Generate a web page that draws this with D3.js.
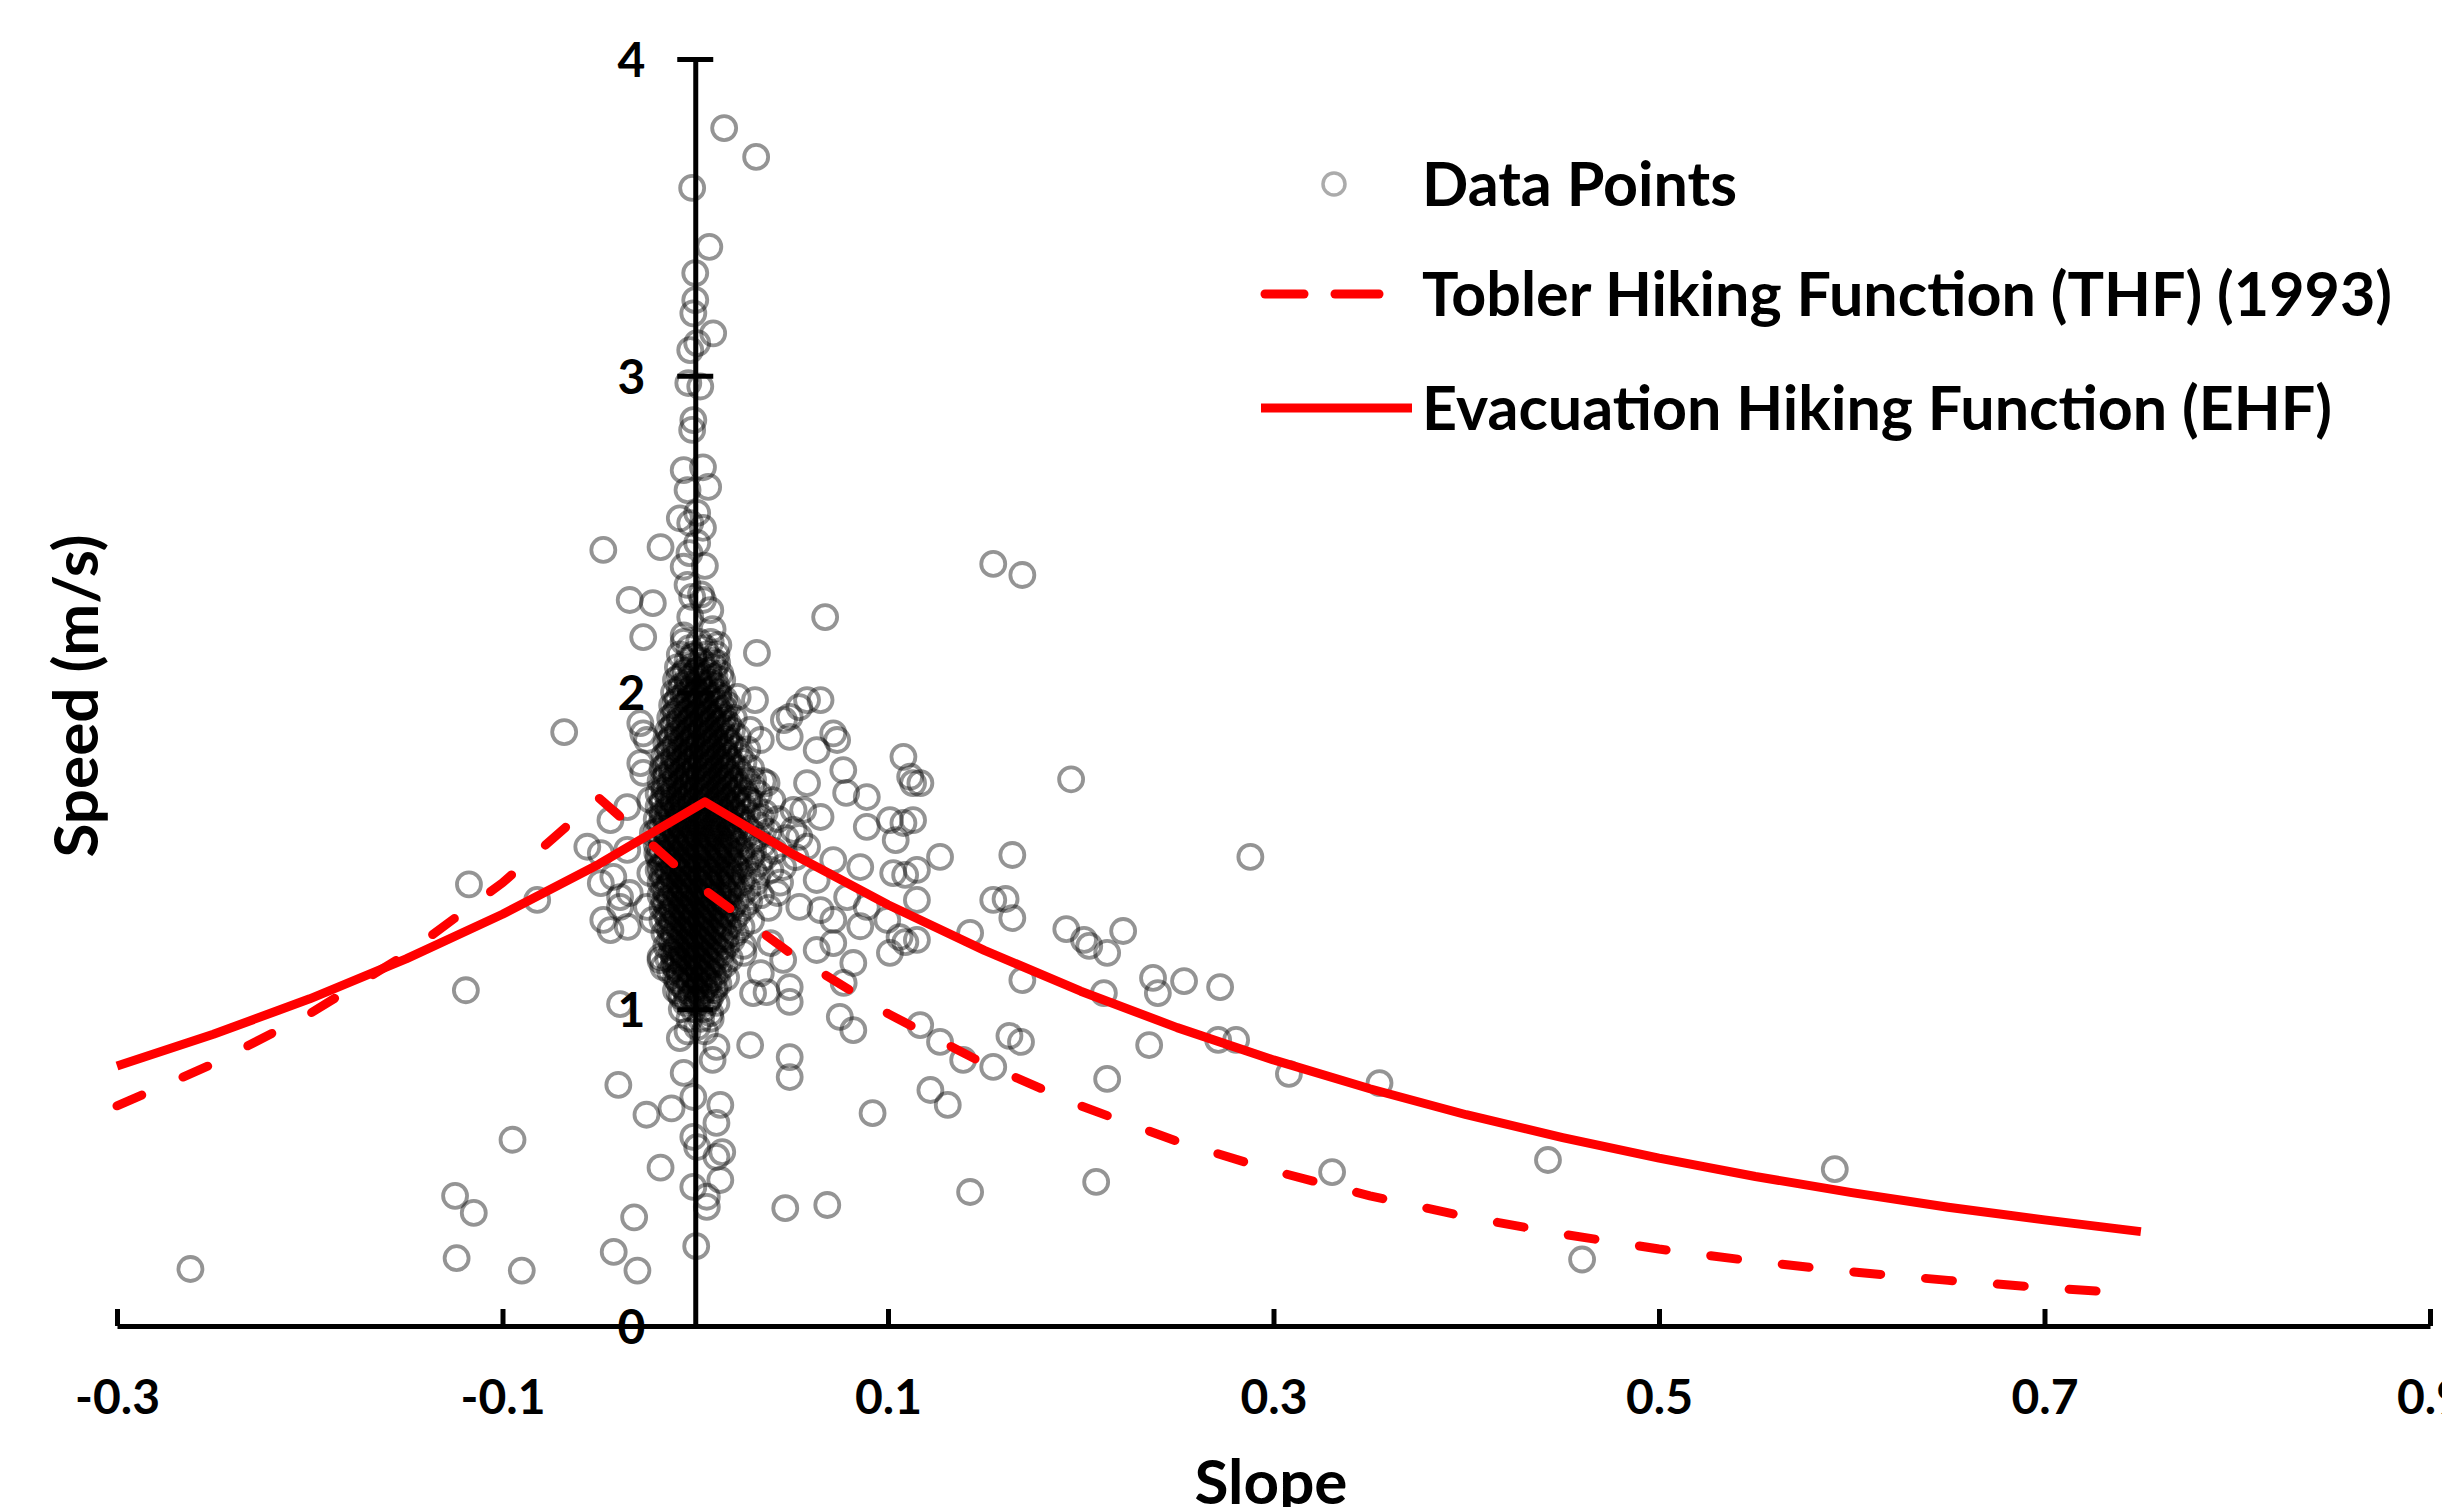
<!DOCTYPE html>
<html>
<head>
<meta charset="utf-8">
<script src="https://cdn.jsdelivr.net/npm/d3@7"></script>
<style>
  body { margin: 0; background: #fff; }
  text { font-family: Lato, "Open Sans", sans-serif; font-weight: bold; fill: #000; }
</style>
</head>
<body>
<div id="chart"></div>
<script>
// axis ticks
var slopeTicks = [-0.3, -0.1, 0.1, 0.3, 0.5, 0.7, 0.9];
var speedTicks = [0, 1, 2, 3, 4];

// Tobler Hiking Function (dashed)
var thfSlope = [-0.30,-0.25,-0.20,-0.15,-0.10,-0.05,0.00,0.05,0.10,0.15,0.20,0.25,0.30,0.35,0.40,0.45,0.50,0.55,0.60,0.65,0.70,0.75];
var thfSpeed = [0.695,0.828,0.986,1.174,1.399,1.667,1.399,1.174,0.986,0.828,0.695,0.583,0.490,0.411,0.345,0.290,0.243,0.204,0.171,0.144,0.121,0.101];

// Evacuation Hiking Function (solid)
var ehfSlope = [-0.30,-0.25,-0.20,-0.15,-0.10,-0.05,0.005,0.05,0.10,0.15,0.20,0.25,0.30,0.35,0.40,0.45,0.50,0.55,0.60,0.65,0.70,0.75];
var ehfSpeed = [0.821,0.921,1.033,1.159,1.300,1.458,1.655,1.492,1.330,1.186,1.057,0.942,0.840,0.749,0.667,0.595,0.530,0.472,0.421,0.375,0.335,0.298];

// scattered observations [slope, speed]
var scatterPoints = [
 [0.015,3.782],[0.0316,3.691],[-0.0016,3.593],[0.0073,3.407],[0,3.324],[0,3.239],[-0.001,3.197],[0.0093,3.134],
 [-0.0026,3.081],[0.001,3.103],[-0.0036,2.977],[0.0026,2.966],[-0.001,2.86],[-0.0016,2.829],[-0.006,2.702],[0.004,2.711],
 [0.0067,2.649],[-0.004,2.639],[-0.008,2.55],[0.004,2.52],[-0.003,2.44],[0.005,2.40],[-0.004,2.34],[0.003,2.31],
 [0.009,2.20],[-0.006,2.18],[0.012,2.15],
 [-0.0477,2.45],[-0.018,2.459],[-0.0026,2.535],[0.001,2.567],[0.001,2.472],[-0.006,2.397],[-0.034,2.292],[-0.022,2.282],
 [-0.0016,2.302],[0.004,2.292],[0.0078,2.26],[-0.0026,2.238],[-0.027,2.175],[0.0674,2.238],[0.032,2.125],[-0.001,2.113],
 [0.0114,2.093],[0.1546,2.406],[0.1697,2.371],
 [-0.068,1.875],[-0.0285,1.903],[-0.027,1.871],[-0.025,1.85],[-0.0285,1.777],[-0.027,1.746],
 [0.022,1.986],[0.031,1.976],[0.049,1.923],[0.054,1.954],[0.058,1.976],[0.065,1.976],[0.046,1.913],[0.049,1.86],
 [0.0285,1.882],[0.034,1.85],[0.0716,1.871],[0.0736,1.85],[0.063,1.818],[0.0768,1.755],[0.108,1.797],[0.1115,1.734],
 [0.113,1.714],[0.1168,1.714],[0.058,1.714],[0.0783,1.683],[0.089,1.67],[0.037,1.714],[0.03,1.724],[0.027,1.661],
 [0.034,1.607],[0.051,1.629],[0.056,1.629],[0.065,1.607],[0.089,1.576],[0.101,1.597],[0.108,1.588],[0.113,1.597],
 [0.104,1.534],[0.051,1.566],[0.054,1.544],[0.058,1.513],[0.0716,1.471],[0.0856,1.449],[0.1027,1.43],[0.115,1.44],
 [0.1089,1.424],[0.127,1.481],[0.1546,1.345],[0.115,1.345],[0.0996,1.282],[0.106,1.228],[0.115,1.219],[0.109,1.212],
 [0.1426,1.241],[0.089,1.323],[0.0788,1.354],[0.063,1.408],[0.0456,1.449],[0.0425,1.367],[0.054,1.323],[0.065,1.313],
 [0.0716,1.282],[0.0856,1.262],[0.0716,1.209],[0.063,1.187],[0.0456,1.156],[0.039,1.209],[0.025,1.178],[0.034,1.114],
 [0.049,1.07],
 [-0.0353,1.638],[-0.044,1.597],[-0.056,1.513],[-0.049,1.493],[-0.0353,1.503],[-0.0425,1.418],[-0.049,1.398],[-0.039,1.354],
 [-0.034,1.367],[-0.082,1.345],[-0.0477,1.282],[-0.044,1.25],[-0.035,1.26],[-0.039,1.323],[-0.022,1.282],[-0.025,1.323],
 [-0.018,1.165],[-0.0166,1.133],[-0.0233,1.43],[-0.018,1.449],[-0.0197,1.493],[-0.022,1.556],[-0.0233,1.661],
 [-0.1174,1.394],[-0.119,1.06],[-0.0948,0.588],[-0.1246,0.411],[-0.1149,0.357],[-0.1238,0.214],[-0.09,0.175],[-0.2619,0.18],
 [-0.0423,0.234],[-0.03,0.175],[-0.0317,0.343],[-0.0399,0.761],[-0.039,1.016],[-0.0253,0.667],[-0.018,0.5],[-0.0123,0.687],
 [0.0005,0.252],[0.006,0.376],[0.006,0.408],[-0.001,0.439],[0.013,0.461],[0.011,0.534],[0.014,0.549],[0.001,0.565],
 [-0.001,0.597],[0.011,0.641],[0.013,0.698],[-0.001,0.723],[-0.006,0.799],[0.009,0.84],[0.011,0.881],[-0.008,0.909],
 [0.001,0.944],[0.0078,0.988],[0.0285,0.887],[0.049,0.849],[0.049,0.786],[0.0467,0.372],[0.0685,0.382],[0.03,1.051],
 [0.037,1.054],[0.049,1.023],[0.075,0.976],[0.082,0.934],[0.077,1.083],[0.082,1.146],[0.101,1.178],[0.1167,0.95],
 [0.127,0.897],[0.139,0.84],[0.122,0.745],[0.131,0.698],[0.092,0.672],[0.1426,0.423],[0.1546,0.818],[-0.018,1.155],
 [-0.011,1.155],
 [0.1645,1.487],[0.288,1.481],[0.161,1.348],[0.1645,1.288],[0.1925,1.253],[0.2017,1.219],[0.2044,1.2],[0.2137,1.178],
 [0.222,1.247],[0.1697,1.092],[0.212,1.051],[0.2375,1.099],[0.24,1.051],[0.2536,1.089],[0.2723,1.07],[0.163,0.916],
 [0.169,0.897],[0.2355,0.887],[0.2713,0.903],[0.2806,0.903],[0.2137,0.78],[0.308,0.796],[0.355,0.767],[0.208,0.455],
 [0.3304,0.486],[0.4424,0.524],[0.195,1.726],[0.5912,0.495],[0.4601,0.210]
];

// dense core around zero slope: speed of each row and the slopes in it
var coreSpeed = [2.16,2.14,2.12,2.10,2.08,2.06,2.04,2.02,2.00,1.98,1.96,1.94,1.92,1.90,1.88,1.86,1.84,1.82,1.80,1.78,
 1.76,1.74,1.72,1.70,1.68,1.66,1.64,1.62,1.60,1.58,1.56,1.54,1.52,1.50,1.48,1.46,1.44,1.42,1.40,1.38,1.36,1.34,1.32,1.30,
 1.28,1.26,1.24,1.22,1.20,1.18,1.16,1.14,1.12,1.10,1.08,1.06,1.04,1.02,1.00,0.97,0.93];
var coreSlopes = [
 [-0.006,0.002,0.008],
 [-0.003,0.005],
 [-0.008,-0.001,0.006,0.011],
 [-0.004,0.003,0.009],
 [-0.009,-0.002,0.004,0.010],
 [-0.006,0.000,0.007,0.013],
 [-0.010,-0.004,0.002,0.008,0.014],
 [-0.007,-0.001,0.005,0.011],
 [-0.011,-0.005,0.001,0.006,0.012],
 [-0.009,-0.003,0.003,0.009,0.015],
 [-0.012,-0.006,0.000,0.005,0.011,0.017],
 [-0.010,-0.004,0.002,0.007,0.013],
 [-0.013,-0.008,-0.002,0.004,0.009,0.015,0.020],
 [-0.011,-0.005,0.001,0.006,0.012,0.017],
 [-0.014,-0.009,-0.003,0.003,0.008,0.014,0.019],
 [-0.012,-0.006,-0.001,0.005,0.010,0.016,0.022],
 [-0.015,-0.010,-0.004,0.002,0.007,0.013,0.018],
 [-0.013,-0.008,-0.002,0.004,0.009,0.015,0.021,0.027],
 [-0.016,-0.011,-0.005,0.001,0.006,0.012,0.017,0.023],
 [-0.014,-0.009,-0.003,0.003,0.008,0.014,0.019,0.025],
 [-0.017,-0.012,-0.006,0.000,0.005,0.011,0.016,0.022,0.029],
 [-0.015,-0.010,-0.004,0.002,0.007,0.013,0.018,0.024],
 [-0.018,-0.013,-0.007,-0.001,0.004,0.010,0.015,0.021,0.027,0.035],
 [-0.016,-0.011,-0.005,0.001,0.006,0.012,0.017,0.023,0.030],
 [-0.019,-0.014,-0.008,-0.002,0.003,0.009,0.014,0.020,0.026,0.033],
 [-0.017,-0.012,-0.006,0.000,0.005,0.011,0.016,0.022,0.028,0.040],
 [-0.019,-0.014,-0.009,-0.003,0.002,0.008,0.013,0.019,0.025,0.031],
 [-0.017,-0.012,-0.007,-0.001,0.004,0.010,0.015,0.021,0.027,0.036],
 [-0.020,-0.015,-0.010,-0.004,0.001,0.007,0.012,0.018,0.024,0.030,0.043],
 [-0.018,-0.013,-0.008,-0.002,0.003,0.009,0.014,0.020,0.026,0.034],
 [-0.020,-0.015,-0.010,-0.005,0.000,0.006,0.011,0.017,0.023,0.029,0.038],
 [-0.018,-0.013,-0.008,-0.003,0.002,0.008,0.013,0.019,0.025,0.032,0.047],
 [-0.020,-0.015,-0.010,-0.005,0.000,0.005,0.011,0.016,0.022,0.028,0.035],
 [-0.018,-0.013,-0.008,-0.003,0.002,0.007,0.013,0.018,0.024,0.030,0.041],
 [-0.019,-0.014,-0.009,-0.004,0.001,0.006,0.012,0.017,0.023,0.029,0.036,0.052],
 [-0.017,-0.012,-0.007,-0.002,0.003,0.009,0.014,0.020,0.026,0.033],
 [-0.019,-0.014,-0.009,-0.004,0.001,0.006,0.011,0.017,0.023,0.030,0.039],
 [-0.017,-0.012,-0.007,-0.002,0.003,0.008,0.014,0.019,0.025,0.032],
 [-0.018,-0.013,-0.008,-0.003,0.002,0.007,0.012,0.018,0.024,0.031,0.044],
 [-0.016,-0.011,-0.006,-0.001,0.004,0.009,0.015,0.020,0.027],
 [-0.018,-0.013,-0.008,-0.003,0.002,0.007,0.012,0.018,0.024,0.034],
 [-0.016,-0.011,-0.006,-0.001,0.004,0.010,0.015,0.021,0.028],
 [-0.017,-0.012,-0.007,-0.002,0.003,0.008,0.013,0.019,0.025,0.038],
 [-0.015,-0.010,-0.005,0.000,0.005,0.011,0.016,0.022],
 [-0.017,-0.012,-0.007,-0.002,0.003,0.008,0.014,0.020,0.029],
 [-0.014,-0.009,-0.004,0.001,0.006,0.012,0.017,0.024],
 [-0.016,-0.011,-0.006,-0.001,0.004,0.009,0.015,0.021],
 [-0.013,-0.008,-0.003,0.002,0.007,0.013,0.019],
 [-0.015,-0.010,-0.005,0.000,0.005,0.010,0.016,0.025],
 [-0.012,-0.007,-0.002,0.003,0.008,0.014],
 [-0.014,-0.009,-0.004,0.001,0.006,0.011,0.018],
 [-0.011,-0.006,-0.001,0.004,0.009,0.015],
 [-0.013,-0.008,-0.003,0.002,0.007,0.012],
 [-0.010,-0.005,0.000,0.005,0.010,0.016],
 [-0.008,-0.003,0.002,0.007,0.012],
 [-0.010,-0.005,0.000,0.005,0.010],
 [-0.007,-0.002,0.003,0.008],
 [-0.005,0.001,0.006,0.011],
 [-0.007,-0.001,0.004],
 [-0.003,0.003,0.008],
 [-0.004,0.005]
];

// the blackest part of the core, rows in between the ones above
var coreSpeed2 = [2.07,2.05,2.03,2.01,1.99,1.97,1.95,1.93,1.91,1.89,1.87,1.85,1.83,1.81,1.79,1.77,1.75,1.73,1.71,1.69,
 1.67,1.65,1.63,1.61,1.59,1.57,1.55,1.53,1.51,1.49,1.47,1.45,1.43,1.41,1.39,1.37,1.35,1.33,1.31,1.29,1.27,1.25,1.23,1.21,
 1.19,1.17,1.15,1.13,1.11,1.09,1.07,1.05,1.03];
var coreSlopes2 = [
 [-0.005,0.001,0.007],
 [-0.008,-0.002,0.004,0.010],
 [-0.004,0.002,0.008],
 [-0.008,-0.002,0.004,0.009],
 [-0.006,0.000,0.006,0.012],
 [-0.010,-0.004,0.002,0.008,0.013],
 [-0.008,-0.002,0.004,0.010,0.015],
 [-0.011,-0.005,0.001,0.007,0.012],
 [-0.008,-0.003,0.003,0.009,0.014],
 [-0.012,-0.006,0.000,0.006,0.011,0.016],
 [-0.009,-0.004,0.002,0.008,0.013],
 [-0.013,-0.007,-0.001,0.005,0.010,0.016],
 [-0.011,-0.005,0.001,0.007,0.012,0.018],
 [-0.014,-0.008,-0.002,0.004,0.009,0.015],
 [-0.011,-0.006,0.000,0.006,0.011,0.017],
 [-0.015,-0.009,-0.003,0.003,0.008,0.014,0.019],
 [-0.012,-0.007,-0.001,0.005,0.010,0.016],
 [-0.016,-0.010,-0.004,0.002,0.007,0.013,0.018],
 [-0.013,-0.008,-0.002,0.004,0.009,0.015,0.020],
 [-0.016,-0.011,-0.005,0.001,0.006,0.012,0.017,0.022],
 [-0.014,-0.008,-0.003,0.003,0.008,0.014,0.019],
 [-0.017,-0.011,-0.006,0.000,0.006,0.011,0.017,0.022],
 [-0.014,-0.009,-0.003,0.002,0.008,0.013,0.019],
 [-0.017,-0.012,-0.006,0.000,0.005,0.011,0.016,0.022],
 [-0.015,-0.009,-0.004,0.002,0.007,0.013,0.018],
 [-0.017,-0.012,-0.007,-0.001,0.004,0.010,0.015,0.021],
 [-0.015,-0.010,-0.004,0.001,0.007,0.012,0.018],
 [-0.017,-0.012,-0.007,-0.002,0.004,0.009,0.015,0.020],
 [-0.015,-0.010,-0.005,0.001,0.006,0.012,0.017],
 [-0.017,-0.012,-0.007,-0.001,0.004,0.010,0.015,0.021],
 [-0.015,-0.010,-0.004,0.001,0.007,0.012,0.018],
 [-0.016,-0.011,-0.006,0.000,0.005,0.011,0.016,0.021],
 [-0.014,-0.009,-0.004,0.002,0.007,0.013,0.018],
 [-0.016,-0.011,-0.005,0.000,0.006,0.011,0.017],
 [-0.014,-0.008,-0.003,0.003,0.008,0.014,0.019],
 [-0.015,-0.010,-0.005,0.001,0.006,0.012,0.017],
 [-0.013,-0.008,-0.002,0.003,0.009,0.014],
 [-0.015,-0.010,-0.004,0.001,0.007,0.012,0.017],
 [-0.012,-0.007,-0.002,0.004,0.009,0.015],
 [-0.014,-0.009,-0.004,0.002,0.007,0.013],
 [-0.012,-0.006,-0.001,0.004,0.010,0.015],
 [-0.013,-0.008,-0.003,0.003,0.008,0.013],
 [-0.011,-0.006,0.000,0.005,0.011,0.016],
 [-0.012,-0.007,-0.002,0.003,0.009],
 [-0.010,-0.004,0.001,0.006,0.012],
 [-0.011,-0.006,0.000,0.005,0.010],
 [-0.009,-0.003,0.002,0.008,0.013],
 [-0.010,-0.005,0.001,0.006],
 [-0.008,-0.002,0.004,0.009],
 [-0.009,-0.003,0.002,0.007],
 [-0.006,0.000,0.005,0.010],
 [-0.008,-0.002,0.003],
 [-0.004,0.001,0.007]
];

var legendLabels = ["Data Points", "Tobler Hiking Function (THF) (1993)", "Evacuation Hiking Function (EHF)"];

var width = 2442, height = 1507;

var svg = d3.select("#chart").append("svg")
	.attr("width", width)
	.attr("height", height)
	.style("display", "block");

svg.append("rect").attr("width", width).attr("height", height).attr("fill", "#fff");

var x = d3.scaleLinear().domain([-0.3, 0.9]).range([117, 2430]);
var y = d3.scaleLinear().domain([0, 4]).range([1326, 59]);

// all observations
var points = scatterPoints.slice();
coreSpeed.forEach(function(s, i) {
	coreSlopes[i].forEach(function(sl) { points.push([sl, s]); });
});
coreSpeed2.forEach(function(s, i) {
	coreSlopes2[i].forEach(function(sl) { points.push([sl, s]); });
});

svg.append("g")
	.selectAll("circle")
	.data(points)
	.enter()
	.append("circle")
	.attr("cx", function(d) { return x(d[0]); })
	.attr("cy", function(d) { return y(d[1]); })
	.attr("r", 12)
	.attr("fill", "none")
	.attr("stroke", "#000")
	.attr("stroke-opacity", 0.42)
	.attr("stroke-width", 3.8);

// x axis (crosses at speed 0)
var xAxis = svg.append("g")
	.attr("transform", "translate(0," + y(0) + ")")
	.call(d3.axisBottom(x).tickValues(slopeTicks).tickSizeInner(-17).tickSizeOuter(0)
		.tickFormat(function(d) { return d.toFixed(1); }));
xAxis.select(".domain").attr("stroke-width", 5);
xAxis.selectAll(".tick line").attr("stroke-width", 5);
xAxis.selectAll(".tick text")
	.attr("y", 71).attr("dy", "0.36em")
	.attr("font-size", 48).attr("font-family", null);

// y axis (crosses at slope 0)
var yAxis = svg.append("g")
	.attr("transform", "translate(" + x(0) + ",0)")
	.call(d3.axisLeft(y).tickValues(speedTicks).tickSizeInner(18).tickSizeOuter(0).tickPadding(32)
		.tickFormat(function(d) { return d; }));
yAxis.select(".domain").attr("stroke-width", 5);
yAxis.selectAll(".tick line").attr("x1", 18).attr("stroke-width", 5);
yAxis.selectAll(".tick text")
	.attr("dy", "0.36em")
	.attr("font-size", 48).attr("font-family", null);

// model curves
var thfData = thfSlope.map(function(s, i) { return [s, thfSpeed[i]]; });
var ehfData = ehfSlope.map(function(s, i) { return [s, ehfSpeed[i]]; });
var line = d3.line().x(function(d) { return x(d[0]); }).y(function(d) { return y(d[1]); });

svg.append("path")
	.attr("d", line(ehfData))
	.attr("fill", "none")
	.attr("stroke", "#ff0000")
	.attr("stroke-width", 9)
	.attr("stroke-linejoin", "round");

svg.append("path")
	.attr("d", line(thfData))
	.attr("fill", "none")
	.attr("stroke", "#ff0000")
	.attr("stroke-width", 9)
	.attr("stroke-linecap", "round")
	.attr("stroke-dasharray", "27,45");

// axis titles
svg.append("text")
	.attr("x", 1271).attr("y", 1504)
	.attr("text-anchor", "middle")
	.attr("font-size", 62)
	.text("Slope");

svg.append("text")
	.attr("transform", "translate(98,696) rotate(-90)")
	.attr("text-anchor", "middle")
	.attr("font-size", 62)
	.text("Speed (m/s)");

// legend
var legendY = [184, 294, 408];
var legend = svg.append("g");

legend.append("circle")
	.attr("cx", 1334).attr("cy", legendY[0]).attr("r", 11)
	.attr("fill", "none").attr("stroke", "#000").attr("stroke-opacity", 0.33).attr("stroke-width", 3.5);

legend.append("line")
	.attr("x1", 1265).attr("x2", 1304).attr("y1", legendY[1]).attr("y2", legendY[1])
	.attr("stroke", "#ff0000").attr("stroke-width", 9).attr("stroke-linecap", "round");
legend.append("line")
	.attr("x1", 1335).attr("x2", 1379).attr("y1", legendY[1]).attr("y2", legendY[1])
	.attr("stroke", "#ff0000").attr("stroke-width", 9).attr("stroke-linecap", "round");

legend.append("line")
	.attr("x1", 1261).attr("x2", 1412).attr("y1", legendY[2]).attr("y2", legendY[2])
	.attr("stroke", "#ff0000").attr("stroke-width", 9);

legend.selectAll(".lbl")
	.data(legendLabels)
	.enter()
	.append("text")
	.attr("x", 1422)
	.attr("y", function(d, i) { return legendY[i]; })
	.attr("dy", "0.36em")
	.attr("font-size", 61)
	.text(function(d) { return d; });
</script>
</body>
</html>
